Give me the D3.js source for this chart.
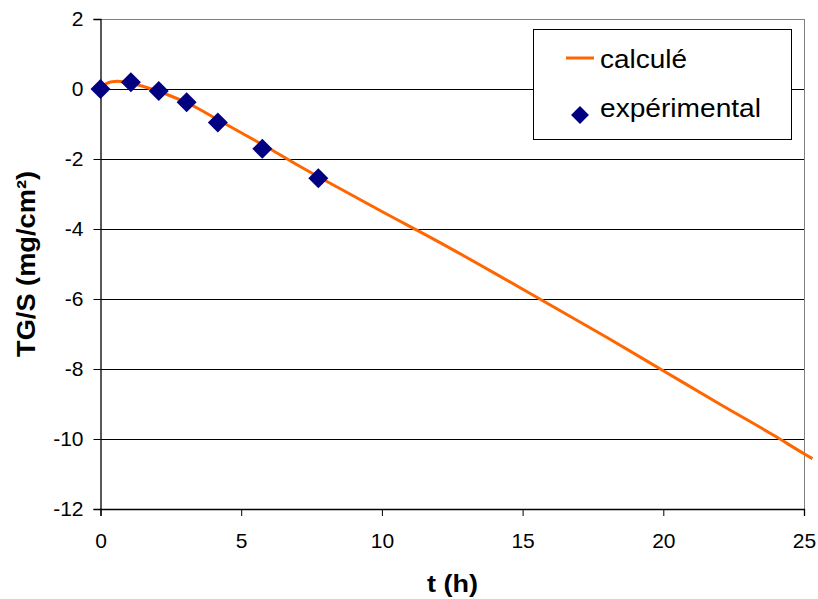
<!DOCTYPE html>
<html>
<head>
<meta charset="utf-8">
<script src="https://cdn.jsdelivr.net/npm/d3@7/dist/d3.min.js"></script>
<style>
  html, body { margin: 0; padding: 0; background: #fff; }
  svg { display: block; }
  text { font-family: "Liberation Sans", Arial, sans-serif; fill: #000; }
</style>
</head>
<body>
<svg id="chart" width="818" height="599"></svg>
<script>
// ---- data ----
const calcT = [0, 0.2, 0.4, 0.6, 0.8, 1, 1.5, 2, 2.5, 3, 3.5, 4, 5, 6, 7, 8, 10, 12, 14, 16, 18, 20, 22, 24, 25, 25.3];
const calcY = [0, 0.15, 0.21, 0.22, 0.21, 0.18, 0.08, -0.05, -0.2, -0.37, -0.57, -0.8, -1.25, -1.7, -2.17, -2.62, -3.5, -4.36, -5.26, -6.18, -7.1, -8.05, -9.0, -9.93, -10.42, -10.56];
const expT = [0, 1.08, 2.07, 3.06, 4.17, 5.75, 7.74];
const expY = [0, 0.19, -0.06, -0.38, -0.96, -1.71, -2.55];
const xTicks = [0, 5, 10, 15, 20, 25];
const yTicks = [2, 0, -2, -4, -6, -8, -10, -12];
const seriesNames = ["calculé", "expérimental"];
const xTitle = "t (h)";
const yTitle = "TG/S (mg/cm²)";

// ---- layout ----
const svg = d3.select("#chart");
const pLeft = 100.5, pRight = 804, pTop = 19, pBottom = 509;
const x = d3.scaleLinear().domain([0, 25]).range([pLeft, pRight]);
const y = d3.scaleLinear().domain([-12, 2]).range([pBottom, pTop]);

// gridlines
svg.append("g").selectAll("line")
  .data(yTicks.filter(d => d !== 2 && d !== -12))
  .join("line")
  .attr("x1", pLeft).attr("x2", pRight)
  .attr("y1", d => Math.round(y(d)) + 0.5).attr("y2", d => Math.round(y(d)) + 0.5)
  .attr("stroke", "#000").attr("stroke-width", 1);

// plot border top/right (gray)
svg.append("line").attr("x1", pLeft).attr("x2", pRight + 0.5)
  .attr("y1", pTop + 0.5).attr("y2", pTop + 0.5).attr("stroke", "#808080");
svg.append("line").attr("x1", pRight + 0.5).attr("x2", pRight + 0.5)
  .attr("y1", pTop).attr("y2", pBottom).attr("stroke", "#808080");

// axes
const yAxis = d3.axisLeft(y).tickValues(yTicks).tickSize(7).tickPadding(10).tickFormat(d3.format("d"));
const gy = svg.append("g").attr("transform", `translate(${pLeft},0)`).call(yAxis);
gy.select(".domain").attr("stroke", "#000").attr("stroke-width", 1.3);
gy.selectAll(".tick line").attr("stroke", "#000");
gy.selectAll("text").style("font-size", "21px").style("font-family", "Liberation Sans, Arial, sans-serif").attr("fill", "#000")
  .text(d => d < 0 ? "-" + Math.abs(d) : d);

const xAxis = d3.axisBottom(x).tickValues(xTicks).tickSize(7).tickPadding(17).tickFormat(d3.format("d"));
const gx = svg.append("g").attr("transform", `translate(0,${pBottom})`).call(xAxis);
gx.select(".domain").attr("stroke", "#000").attr("stroke-width", 1.3);
gx.selectAll(".tick line").attr("stroke", "#000");
gx.selectAll("text").style("font-size", "21px").style("font-family", "Liberation Sans, Arial, sans-serif").attr("fill", "#000");

// calculated curve
const calc = calcT.map((t, i) => [t, calcY[i]]);
const line = d3.line().x(d => x(d[0])).y(d => y(d[1])).curve(d3.curveMonotoneX);
svg.append("path").datum(calc).attr("d", line)
  .attr("fill", "none").attr("stroke", "#FF6600").attr("stroke-width", 3);

// experimental diamonds
const diamond = d3.symbol().type(d3.symbolSquare).size(200);
svg.append("g").selectAll("path")
  .data(expT.map((t, i) => [t, expY[i]]))
  .join("path")
  .attr("d", diamond)
  .attr("transform", d => `translate(${x(d[0])},${y(d[1])}) rotate(45)`)
  .attr("fill", "#000080");

// legend
const lg = svg.append("g");
lg.append("rect").attr("x", 533.5).attr("y", 29.5).attr("width", 258).attr("height", 110)
  .attr("fill", "#fff").attr("stroke", "#000").attr("stroke-width", 1);
lg.append("line").attr("x1", 566).attr("x2", 594).attr("y1", 58).attr("y2", 58)
  .attr("stroke", "#FF6600").attr("stroke-width", 3);
lg.append("path").attr("d", d3.symbol().type(d3.symbolSquare).size(160))
  .attr("transform", "translate(580,115) rotate(45)").attr("fill", "#000080");
lg.append("text").attr("x", 600).attr("y", 68).style("font-size", "25px")
  .attr("textLength", 87).attr("lengthAdjust", "spacingAndGlyphs").text(seriesNames[0]);
lg.append("text").attr("x", 600).attr("y", 117).style("font-size", "25px")
  .attr("textLength", 161).attr("lengthAdjust", "spacingAndGlyphs").text(seriesNames[1]);

// axis titles
svg.append("text").attr("x", 452.5).attr("y", 592).attr("text-anchor", "middle")
  .style("font-size", "24px").style("font-weight", "bold")
  .attr("textLength", 51).attr("lengthAdjust", "spacingAndGlyphs").text(xTitle);
svg.append("text").attr("transform", `translate(35,${(pTop + pBottom) / 2}) rotate(-90)`)
  .attr("text-anchor", "middle").style("font-size", "26px").style("font-weight", "bold")
  .attr("textLength", 186).attr("lengthAdjust", "spacingAndGlyphs").text(yTitle);
</script>
</body>
</html>
